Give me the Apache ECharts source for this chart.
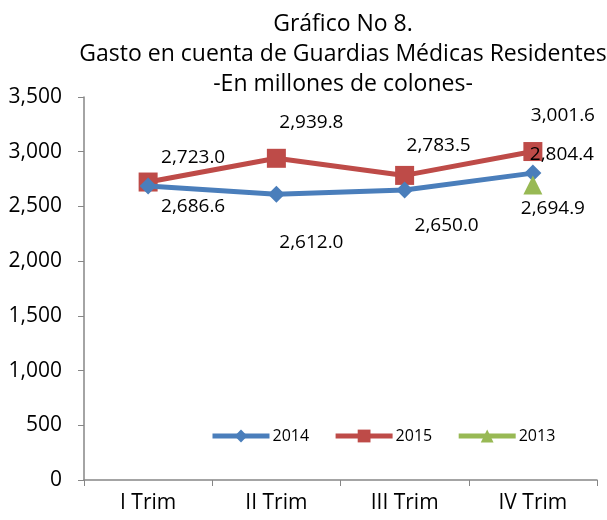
<!DOCTYPE html>
<html>
<head>
<meta charset="utf-8">
<script src="https://cdn.jsdelivr.net/npm/echarts@6/dist/echarts.min.js"></script>
<style>
  html, body { margin: 0; padding: 0; background: #fff; }
  #chart { width: 607px; height: 520px; }
</style>
</head>
<body>
<div id="chart"></div>
<script>
const categories = ['I Trim', 'II Trim', 'III Trim', 'IV Trim'];
const values2014 = [2686.6, 2612.0, 2650.0, 2804.4];
const values2015 = [2723.0, 2939.8, 2783.5, 3001.6];
const values2013 = [null, null, null, 2694.9];
const yTicks = { min: 0, max: 3500, interval: 500 };

const FONT = 'Open Sans, sans-serif';

// label offsets (px), hand-placed like the original
const off2014 = [[45, 21], [35, 48], [42, 36], [29, -19]];
const off2015 = [[45, -24], [35, -36], [34, -30], [30, -36]];
const off2013 = [null, null, null, [20, 23]];

function fmt(v) {
  return v.toLocaleString('en-US', { minimumFractionDigits: 1, maximumFractionDigits: 1 });
}

function withLabels(vals, offs) {
  return vals.map((v, i) => {
    if (v == null) return null;
    return { value: v, label: { offset: offs[i] } };
  });
}

const labelBase = {
  show: true,
  position: 'inside',
  color: '#000',
  fontFamily: FONT,
  fontSize: 19,
  formatter: p => fmt(p.value)
};

const chart = echarts.init(document.getElementById('chart'));
chart.setOption({
  backgroundColor: '#fff',
  animation: false,
  title: {
    text: 'Gráfico No 8.\nGasto en cuenta de Guardias Médicas Residentes\n-En millones de colones-',
    left: 338,
    top: 4,
    textAlign: 'center',
    textStyle: { fontFamily: FONT, fontSize: 23, fontWeight: 'normal', color: '#000', lineHeight: 30 }
  },
  legend: {
    data: ['2014', '2015', '2013'],
    left: 205,
    top: 423,
    itemWidth: 57,
    itemHeight: 16,
    itemGap: 24,
    lineStyle: { width: 5 },
    textStyle: { fontFamily: FONT, fontSize: 16, color: '#000', padding: [0, 0, 0, -2] }
  },
  grid: { left: 84, right: 10, top: 97, bottom: 40 },
  xAxis: {
    type: 'category',
    data: categories,
    boundaryGap: true,
    axisLine: { lineStyle: { color: '#868686', width: 1.5 } },
    axisTick: { show: true, length: 6, lineStyle: { color: '#868686' } },
    axisLabel: { color: '#000', fontFamily: FONT, fontSize: 21, margin: 13 }
  },
  yAxis: {
    type: 'value',
    min: yTicks.min,
    max: yTicks.max,
    interval: yTicks.interval,
    axisLine: { show: true, lineStyle: { color: '#868686', width: 1.5 } },
    axisTick: { show: true, length: 6, lineStyle: { color: '#868686' } },
    splitLine: { show: false },
    axisLabel: {
      color: '#000', fontFamily: FONT, fontSize: 21, margin: 22,
      formatter: v => v.toLocaleString('en-US')
    }
  },
  series: [
    {
      name: '2014', type: 'line',
      data: withLabels(values2014, off2014),
      symbol: 'diamond', symbolSize: 17,
      color: '#4A7EBB',
      lineStyle: { width: 5, color: '#4A7EBB' },
      label: labelBase,
      z: 3
    },
    {
      name: '2015', type: 'line',
      data: withLabels(values2015, off2015),
      symbol: 'rect', symbolSize: 19,
      color: '#BE4B48',
      lineStyle: { width: 5, color: '#BE4B48' },
      label: labelBase,
      z: 2
    },
    {
      name: '2013', type: 'line',
      data: withLabels(values2013, off2013),
      symbol: 'triangle', symbolSize: 19,
      color: '#98B954',
      lineStyle: { width: 5, color: '#98B954' },
      label: labelBase,
      z: 4
    }
  ]
});
</script>
</body>
</html>
